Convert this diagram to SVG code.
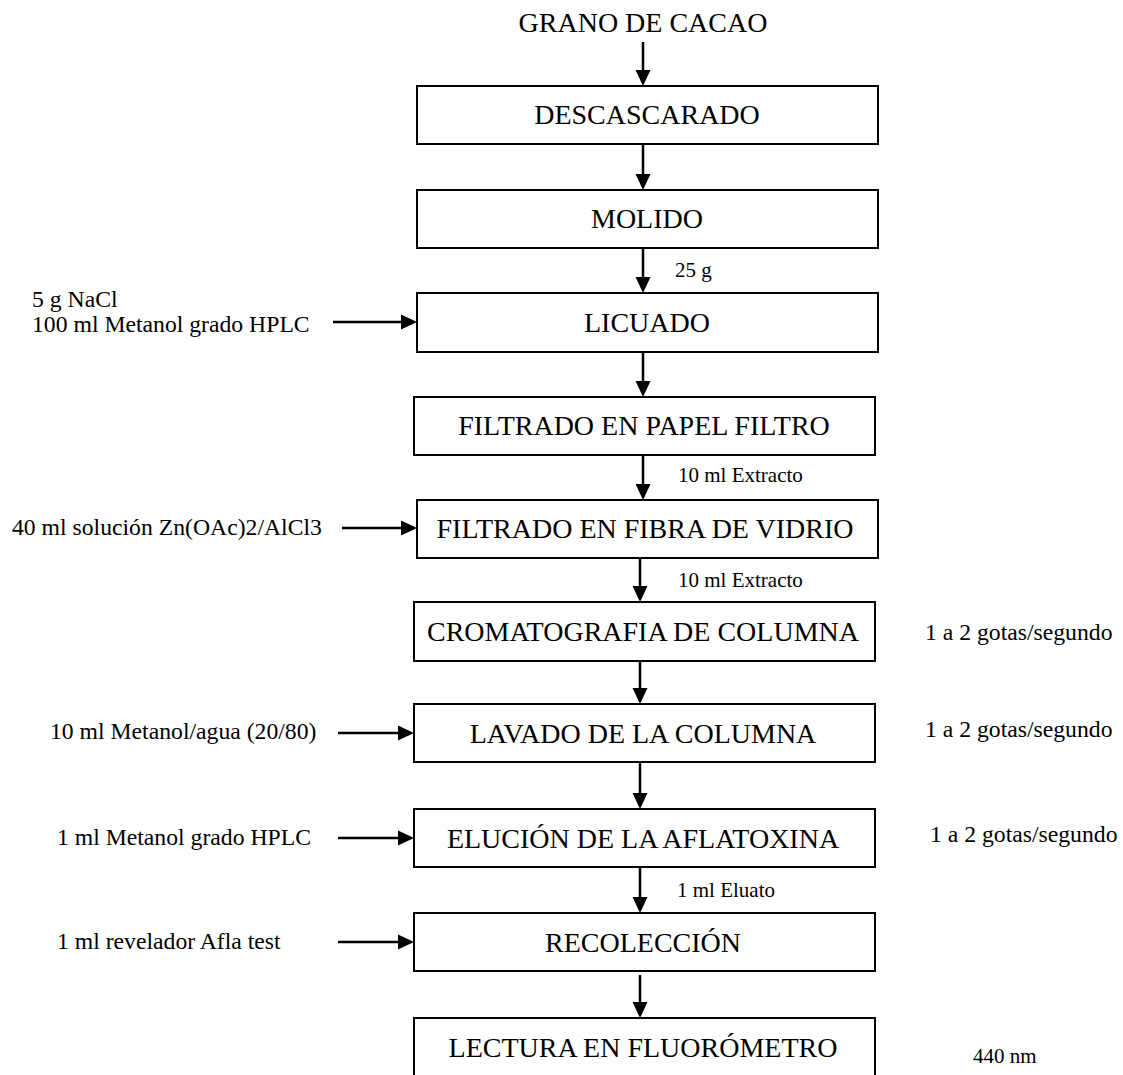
<svg xmlns="http://www.w3.org/2000/svg" width="1123" height="1075" viewBox="0 0 1123 1075">
  <style>
    .box { fill: #ffffff; stroke: #000000; stroke-width: 2; }
    .step { font-family: "Liberation Serif", "Times New Roman", serif; font-size: 28px; fill: #000000; text-anchor: middle; }
    .note { font-family: "Liberation Serif", "Times New Roman", serif; font-size: 23.7px; fill: #000000; }
    .small { font-family: "Liberation Serif", "Times New Roman", serif; font-size: 21px; fill: #000000; }
    .flow { stroke: #000000; stroke-width: 2.5; fill: none; marker-end: url(#head); }
  </style>
  <defs>
    <marker id="head" markerUnits="userSpaceOnUse" markerWidth="16" markerHeight="16" refX="5" refY="8" orient="auto">
      <path d="M0,0.5 L16,8 L0,15.5 Z" fill="#000000"/>
    </marker>
  </defs>
  <rect width="1123" height="1075" fill="#ffffff"/>

  <!-- process steps -->
  <g id="grano">
    <text class="step" x="643" y="32">GRANO DE CACAO</text>
  </g>
  <g id="descascarado">
    <rect class="box" x="417" y="86" width="461" height="58"/>
    <text class="step" x="647" y="124">DESCASCARADO</text>
  </g>
  <g id="molido">
    <rect class="box" x="417" y="190" width="461" height="58"/>
    <text class="step" x="647" y="228">MOLIDO</text>
  </g>
  <g id="licuado">
    <rect class="box" x="417" y="293" width="461" height="59"/>
    <text class="step" x="647" y="332">LICUADO</text>
  </g>
  <g id="filtrado-papel">
    <rect class="box" x="414" y="397" width="461" height="58"/>
    <text class="step" x="644" y="435">FILTRADO EN PAPEL FILTRO</text>
  </g>
  <g id="filtrado-fibra">
    <rect class="box" x="417" y="500" width="461" height="58"/>
    <text class="step" x="645" y="538">FILTRADO EN FIBRA DE VIDRIO</text>
  </g>
  <g id="cromatografia">
    <rect class="box" x="414" y="602" width="461" height="59"/>
    <text class="step" x="643" y="641">CROMATOGRAFIA DE COLUMNA</text>
  </g>
  <g id="lavado">
    <rect class="box" x="414" y="704" width="461" height="58"/>
    <text class="step" x="643" y="743">LAVADO DE LA COLUMNA</text>
  </g>
  <g id="elucion">
    <rect class="box" x="414" y="809" width="461" height="58"/>
    <text class="step" x="643" y="848">ELUCIÓN DE LA AFLATOXINA</text>
  </g>
  <g id="recoleccion">
    <rect class="box" x="414" y="913" width="461" height="58"/>
    <text class="step" x="643" y="952">RECOLECCIÓN</text>
  </g>
  <g id="lectura">
    <rect class="box" x="414" y="1018" width="461" height="62"/>
    <text class="step" x="643" y="1057">LECTURA EN FLUORÓMETRO</text>
  </g>

  <!-- inputs on the left -->
  <g id="input-nacl">
    <text class="note" x="32" y="307">5 g NaCl</text>
    <text class="note" x="32" y="332">100 ml Metanol grado HPLC</text>
  </g>
  <g id="input-zn">
    <text class="note" x="12" y="535">40 ml solución Zn(OAc)2/AlCl3</text>
  </g>
  <g id="input-metanol-agua">
    <text class="note" x="50" y="739">10 ml Metanol/agua (20/80)</text>
  </g>
  <g id="input-metanol">
    <text class="note" x="57" y="845">1 ml Metanol grado HPLC</text>
  </g>
  <g id="input-revelador">
    <text class="note" x="57" y="949">1 ml revelador Afla test</text>
  </g>

  <!-- quantities beside the flow -->
  <g id="quantities">
    <text class="small" x="675" y="277">25 g</text>
    <text class="small" x="678" y="482">10 ml Extracto</text>
    <text class="small" x="678" y="587">10 ml Extracto</text>
    <text class="small" x="677" y="897">1 ml Eluato</text>
  </g>

  <!-- conditions on the right -->
  <g id="conditions">
    <text class="note" x="925" y="640">1 a 2 gotas/segundo</text>
    <text class="note" x="925" y="737">1 a 2 gotas/segundo</text>
    <text class="note" x="930" y="842">1 a 2 gotas/segundo</text>
    <text class="small" x="973" y="1063">440 nm</text>
  </g>

  <!-- connectors -->
  <g id="connectors">
    <line class="flow" x1="643" y1="42" x2="643" y2="75"/>
    <line class="flow" x1="643" y1="144" x2="643" y2="179"/>
    <line class="flow" x1="643" y1="248" x2="643" y2="282"/>
    <line class="flow" x1="643" y1="352" x2="643" y2="386"/>
    <line class="flow" x1="643" y1="455" x2="643" y2="489"/>
    <line class="flow" x1="640" y1="558" x2="640" y2="591"/>
    <line class="flow" x1="640" y1="661" x2="640" y2="693"/>
    <line class="flow" x1="640" y1="762" x2="640" y2="798"/>
    <line class="flow" x1="640" y1="867" x2="640" y2="902"/>
    <line class="flow" x1="640" y1="975" x2="640" y2="1007"/>
    <line class="flow" x1="333" y1="322" x2="406" y2="322"/>
    <line class="flow" x1="342" y1="528" x2="406" y2="528"/>
    <line class="flow" x1="338" y1="733" x2="403" y2="733"/>
    <line class="flow" x1="338" y1="838" x2="403" y2="838"/>
    <line class="flow" x1="338" y1="942" x2="403" y2="942"/>
  </g>
</svg>
